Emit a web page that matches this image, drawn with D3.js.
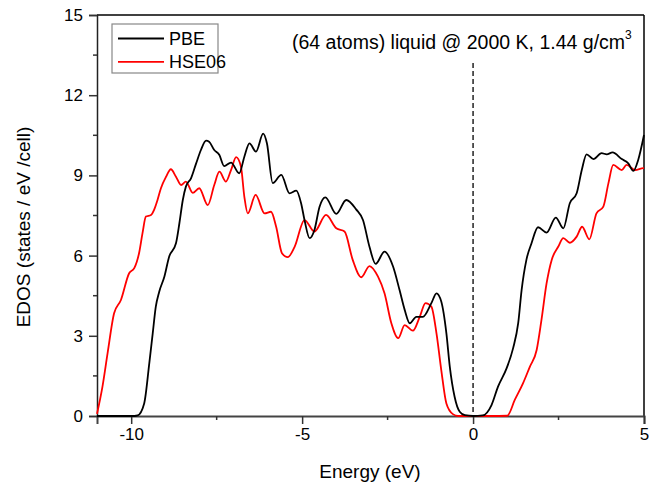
<!DOCTYPE html>
<html><head><meta charset="utf-8">
<script src="https://cdn.jsdelivr.net/npm/d3@7/dist/d3.min.js"></script>
<style>body{margin:0;background:#fff}svg{display:block}text{font-family:Arial,"Liberation Sans",sans-serif}</style>
</head><body><svg id="c" width="649" height="487"></svg>
<script>
const seriesNames = ["PBE", "HSE06"];
const seriesColors = ["#000000", "#ff0000"];
const xTickValues = [-10, -5, 0, 5];
const yTickValues = [0, 3, 6, 9, 12, 15];
const annotation = "(64 atoms) liquid @ 2000 K, 1.44 g/cm";

const pbeE = [-11.0, -9.9, -9.81, -9.62, -9.47, -9.37, -9.28, -9.18, -9.03, -8.89, -8.69, -8.59, -8.49, -8.40, -8.25, -8.10, -7.96, -7.81, -7.72, -7.57, -7.42, -7.28, -7.08, -6.84, -6.69, -6.54, -6.35, -6.14, -6.03, -5.86, -5.61, -5.37, -5.17, -5.03, -4.93, -4.78, -4.64, -4.49, -4.32, -4.00, -3.71, -3.42, -3.22, -3.03, -2.85, -2.59, -2.34, -2.15, -2.00, -1.85, -1.66, -1.47, -1.22, -1.07, -0.93, -0.78, -0.68, -0.54, -0.39, -0.24, 0.0, 0.28, 0.54, 0.73, 0.98, 1.17, 1.32, 1.42, 1.56, 1.71, 1.90, 2.15, 2.42, 2.64, 2.83, 3.03, 3.18, 3.32, 3.52, 3.76, 3.91, 4.08, 4.35, 4.54, 4.69, 4.83, 5.0];
const pbeD = [0, 0, 0.02, 0.47, 1.98, 3.09, 4.09, 4.65, 5.21, 5.96, 6.46, 7.21, 8.08, 8.58, 8.89, 9.45, 9.95, 10.30, 10.26, 9.95, 9.76, 9.35, 9.48, 9.08, 9.70, 10.2, 9.89, 10.56, 10.2, 8.71, 9.02, 8.33, 8.43, 7.96, 7.33, 6.65, 6.96, 7.83, 8.18, 7.56, 8.08, 7.73, 7.33, 6.33, 5.69, 6.15, 5.59, 4.71, 3.97, 3.47, 3.71, 3.71, 4.22, 4.59, 4.28, 3.09, 1.84, 0.72, 0.16, 0.03, 0, 0.02, 0.41, 1.10, 1.78, 2.53, 3.47, 4.71, 5.84, 6.46, 7.06, 6.86, 7.42, 7.02, 7.96, 8.33, 9.20, 9.79, 9.61, 9.83, 9.79, 9.86, 9.61, 9.45, 9.17, 9.58, 10.51];

const hseE = [-11.0, -10.84, -10.69, -10.50, -10.30, -10.06, -9.91, -9.77, -9.67, -9.57, -9.42, -9.33, -9.23, -9.13, -8.98, -8.84, -8.69, -8.54, -8.40, -8.20, -8.01, -7.76, -7.57, -7.42, -7.23, -7.08, -6.93, -6.79, -6.69, -6.59, -6.36, -6.10, -5.91, -5.76, -5.59, -5.42, -5.22, -4.93, -4.64, -4.30, -4.00, -3.76, -3.52, -3.27, -3.03, -2.78, -2.59, -2.39, -2.19, -2.00, -1.76, -1.56, -1.39, -1.22, -1.07, -0.93, -0.78, -0.59, -0.44, 0.0, 0.5, 1.0, 1.22, 1.46, 1.66, 1.86, 2.00, 2.15, 2.30, 2.49, 2.64, 2.83, 3.03, 3.19, 3.40, 3.61, 3.81, 3.96, 4.10, 4.35, 4.49, 4.74, 4.98, 5.0];
const hseD = [0.08, 1.10, 2.35, 3.84, 4.34, 5.34, 5.53, 6.09, 6.83, 7.46, 7.52, 7.71, 8.08, 8.52, 8.95, 9.23, 8.95, 8.64, 8.77, 8.35, 8.52, 7.89, 8.64, 9.14, 8.77, 9.20, 9.68, 9.33, 8.20, 7.58, 8.27, 7.58, 7.64, 7.08, 6.09, 5.94, 6.33, 7.33, 6.90, 7.52, 7.02, 6.90, 5.84, 5.19, 5.61, 5.21, 4.59, 3.47, 2.91, 3.40, 3.19, 3.71, 4.22, 4.09, 3.09, 1.72, 0.47, 0.07, 0.0, 0, 0, 0.01, 0.60, 1.22, 1.84, 2.47, 3.59, 4.96, 5.84, 6.33, 6.65, 6.48, 6.71, 7.08, 6.61, 7.58, 7.83, 8.71, 9.39, 9.20, 9.39, 9.20, 9.27, 9.27];

const svg = d3.select("#c");
const L = 97, R = 644, T = 15, B = 416;
const x = d3.scaleLinear().domain([-11, 5]).range([L, R]);
const y = d3.scaleLinear().domain([0, 15]).range([B, T]);

const axisColor = "#333";
const xMinor = [-7.5, -2.5, 2.5];
const yMinor = [1.5, 4.5, 7.5, 10.5, 13.5];

// frame
svg.append("line").attr("x1", L).attr("x2", R).attr("y1", T).attr("y2", T).attr("stroke", "#000").attr("stroke-width", 1.5);
svg.append("line").attr("x1", R).attr("x2", R).attr("y1", T).attr("y2", B).attr("stroke", "#000").attr("stroke-width", 1.5);

// x axis
const gx = svg.append("g").attr("transform", `translate(0,${B})`)
  .call(d3.axisBottom(x).tickValues(xTickValues).tickSize(8).tickPadding(4).tickFormat(d3.format("d")));
gx.select(".domain").attr("stroke", "#444").attr("stroke-width", 2);
gx.selectAll(".tick line").attr("stroke", axisColor).attr("stroke-width", 1.5);
gx.selectAll(".tick text").attr("font-size", 17).attr("fill", "#000").attr("font-family", "Arial, 'Liberation Sans', sans-serif").text(d => d < 0 ? "-" + Math.abs(d) : d);
svg.append("g").selectAll("line").data(xMinor).join("line")
  .attr("x1", d => x(d)).attr("x2", d => x(d)).attr("y1", B).attr("y2", B + 4)
  .attr("stroke", axisColor).attr("stroke-width", 1.5);

// y axis
const gy = svg.append("g").attr("transform", `translate(${L},0)`)
  .call(d3.axisLeft(y).tickValues(yTickValues).tickSize(8).tickPadding(6));
gy.select(".domain").attr("stroke", "#222").attr("stroke-width", 1.5);
gy.selectAll(".tick line").attr("stroke", axisColor).attr("stroke-width", 1.5);
gy.selectAll(".tick text").attr("font-size", 17).attr("fill", "#000").attr("font-family", "Arial, 'Liberation Sans', sans-serif");
svg.append("g").selectAll("line").data(yMinor).join("line")
  .attr("x1", L - 4).attr("x2", L).attr("y1", d => y(d)).attr("y2", d => y(d))
  .attr("stroke", axisColor).attr("stroke-width", 1.5);

// dashed Fermi line
svg.append("line").attr("x1", x(0)).attr("x2", x(0)).attr("y1", y(13.2)).attr("y2", B)
  .attr("stroke", "#000").attr("stroke-width", 1.3).attr("stroke-dasharray", "5,3");

// curves
const line = d3.line().x(d => x(d[0])).y(d => y(d[1])).curve(d3.curveMonotoneX);
const pbe = pbeE.map((e, i) => [e, pbeD[i]]);
const hse = hseE.map((e, i) => [e, hseD[i]]);
svg.append("path").datum(hse).attr("d", line).attr("fill", "none").attr("stroke", seriesColors[1]).attr("stroke-width", 1.8);
svg.append("path").datum(pbe).attr("d", line).attr("fill", "none").attr("stroke", seriesColors[0]).attr("stroke-width", 1.8);

// axis titles
svg.append("text").attr("x", 370).attr("y", 478).attr("text-anchor", "middle").attr("font-size", 19).text("Energy (eV)");
svg.append("text").attr("transform", "translate(30,227) rotate(-90)").attr("text-anchor", "middle").attr("font-size", 19).text("EDOS (states / eV /cell)");

// legend
svg.append("rect").attr("x", 112).attr("y", 24).attr("width", 106).attr("height", 49)
  .attr("fill", "#fff").attr("stroke", "#888").attr("stroke-width", 1.2);
seriesNames.forEach((n, i) => {
  const ly = 38.5 + i * 23.3;
  svg.append("line").attr("x1", 118).attr("x2", 164).attr("y1", ly).attr("y2", ly).attr("stroke", seriesColors[i]).attr("stroke-width", 1.8);
  svg.append("text").attr("x", 169).attr("y", ly + 6.5).attr("font-size", 18).text(n);
});

// annotation
const ann = svg.append("text").attr("x", 292).attr("y", 49).attr("font-size", 19.5);
ann.append("tspan").text(annotation);
ann.append("tspan").attr("dy", -10).attr("font-size", 12).text("3");
</script></body></html>
